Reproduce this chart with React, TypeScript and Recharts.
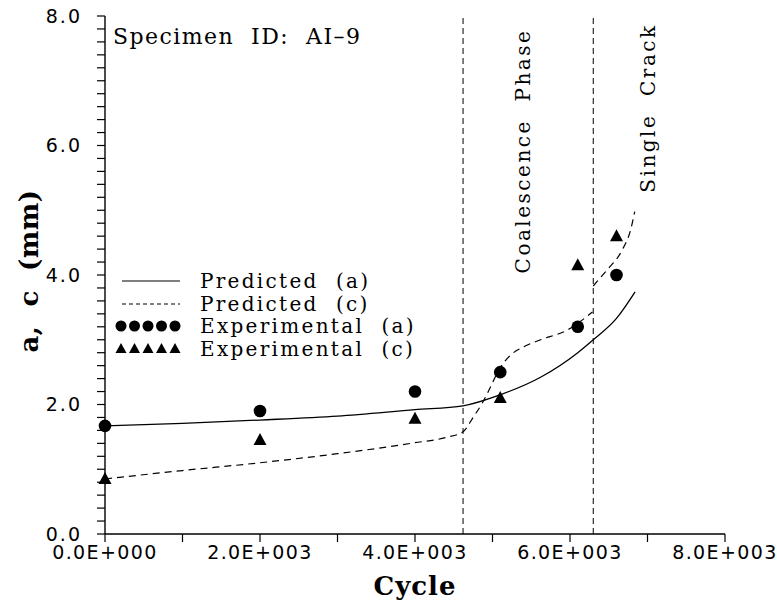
import {
  ComposedChart,
  Line,
  Scatter,
  XAxis,
  YAxis,
  ReferenceLine,
  Legend,
} from 'recharts';

// experimental measurements
const testCycles = [0, 2000, 4000, 5100, 6100, 6600];
const expA = [1.67, 1.9, 2.2, 2.5, 3.2, 4.0];
const expC = [0.85, 1.45, 1.78, 2.1, 4.15, 4.6];

// predicted depth a
const predACycles = [0, 1000, 2000, 3000, 4000, 4620, 5100, 5620, 6100, 6300, 6600, 6840];
const predA = [1.67, 1.71, 1.76, 1.82, 1.92, 1.98, 2.15, 2.42, 2.8, 3.0, 3.33, 3.74];

// predicted half length c, before and after the single crack forms
const predC1Cycles = [0, 1000, 2000, 3000, 4000, 4400, 4620, 4755, 4867, 4974, 5080, 5232, 5400, 5620, 5965, 6290];
const predC1 = [0.85, 0.98, 1.1, 1.24, 1.41, 1.49, 1.58, 1.81, 2.02, 2.27, 2.53, 2.76, 2.89, 3.0, 3.15, 3.43];
const predC2Cycles = [6300, 6350, 6480, 6675, 6783, 6835];
const predC2 = [3.83, 3.9, 4.08, 4.39, 4.7, 4.98];

const phaseCycles = [4620, 6300];
const phaseLabels = ['Coalescence  Phase', 'Single  Crack'];

const xMajor = [0, 2000, 4000, 6000, 8000];
const yMajor = [0, 2, 4, 6, 8];

const xTicks = [0, 1000, 2000, 3000, 4000, 5000, 6000, 7000, 8000];
const yTicks = Array.from({ length: 41 }, (_, i) => Math.round(i * 2) / 10);

const legendItems = ['Predicted  (a)', 'Predicted  (c)', 'Experimental  (a)', 'Experimental  (c)'];

const toPoints = (xs: number[], ys: number[]) => xs.map((x, i) => ({ x, y: ys[i] }));

const expAData = toPoints(testCycles, expA);
const expCData = toPoints(testCycles, expC);
const predAData = toPoints(predACycles, predA);
const predC1Data = toPoints(predC1Cycles, predC1);
const predC2Data = toPoints(predC2Cycles, predC2);

const serif = 'DejaVu Serif';
const sans = 'DejaVu Sans';

function fmtCycle(v: number) {
  if (!xMajor.includes(v)) return '';
  if (v === 0) return '0.0E+000';
  const e = Math.floor(Math.log10(v));
  const m = v / Math.pow(10, e);
  return `${m.toFixed(1)}E+${String(e).padStart(3, '0')}`;
}

function fmtSize(v: number) {
  return yMajor.some((m) => Math.abs(m - v) < 1e-6) ? v.toFixed(1) : '';
}

const Dot = (p: any) => <circle cx={p.cx} cy={p.cy} r={6.3} fill="#000" />;
const Tri = (p: any) => (
  <polygon
    points={`${p.cx},${p.cy - 7} ${p.cx - 6.5},${p.cy + 5} ${p.cx + 6.5},${p.cy + 5}`}
    fill="#000"
  />
);

function LegendBox() {
  return (
    <div style={{ fontFamily: serif, fontSize: 20, letterSpacing: 2.3, color: '#000' }}>
      {legendItems.map((name, i) => (
        <div key={name} style={{ display: 'flex', alignItems: 'center', height: 22.7 }}>
          <svg width={87} height={22}>
            {i === 0 && <line x1={9} x2={67} y1={11} y2={11} stroke="#000" strokeWidth={1.2} />}
            {i === 1 && (
              <line x1={9} x2={67} y1={11} y2={11} stroke="#000" strokeWidth={1} strokeDasharray="4 3" />
            )}
            {i === 2 &&
              [0, 1, 2, 3, 4].map((k) => <circle key={k} cx={8 + k * 13.5} cy={11} r={5.5} fill="#000" />)}
            {i === 3 &&
              [0, 1, 2, 3, 4].map((k) => (
                <polygon
                  key={k}
                  points={`${8 + k * 13.5},${5} ${2.5 + k * 13.5},${15} ${13.5 + k * 13.5},${15}`}
                  fill="#000"
                />
              ))}
          </svg>
          <span style={{ whiteSpace: 'pre' }}>{name}</span>
        </div>
      ))}
    </div>
  );
}

export default function App() {
  const labelOffsets = [67, 62];
  const labelCenters = [151, 108];

  return (
    <div style={{ position: 'absolute', left: 0, top: 0, background: '#fff' }}>
      <ComposedChart width={777} height={605} margin={{ top: 16, right: 52, bottom: 0, left: 0 }}>
        <XAxis
          dataKey="x"
          type="number"
          domain={[0, 8000]}
          ticks={xTicks}
          interval={0}
          tickFormatter={fmtCycle}
          height={71}
          axisLine={{ stroke: '#000', strokeWidth: 1.4 }}
          tickLine={{ stroke: '#000', strokeWidth: 1.2 }}
          tickSize={8}
          tickMargin={4}
          tick={{ fill: '#000', fontSize: 19, fontFamily: sans, letterSpacing: 1.4 }}
          label={(p: any) => (
            <text
              x={p.viewBox.x + p.viewBox.width / 2}
              y={p.viewBox.y + 61}
              textAnchor="middle"
              fontFamily={serif}
              fontSize={26}
              fontWeight="bold"
              letterSpacing={1}
              fill="#000"
            >
              Cycle
            </text>
          )}
        />
        <XAxis
          xAxisId="top"
          orientation="top"
          type="number"
          domain={[0, 8000]}
          height={0}
          tick={false}
          tickLine={false}
          axisLine={{ stroke: '#000', strokeWidth: 1.4 }}
        />
        <YAxis
          dataKey="y"
          type="number"
          domain={[0, 8]}
          ticks={yTicks}
          interval={0}
          tickFormatter={fmtSize}
          width={105}
          axisLine={{ stroke: '#000', strokeWidth: 1.4 }}
          tickLine={{ stroke: '#000', strokeWidth: 1.2 }}
          tickSize={8}
          tickMargin={15}
          tick={{ fill: '#000', fontSize: 19, fontFamily: sans, letterSpacing: 2 }}
          label={(p: any) => {
            const cx = 38;
            const cy = p.viewBox.y + p.viewBox.height / 2 - 4;
            return (
              <text
                x={cx}
                y={cy}
                transform={`rotate(-90, ${cx}, ${cy})`}
                textAnchor="middle"
                fontFamily={serif}
                fontSize={26}
                fontWeight="bold"
                letterSpacing={0.5}
                fill="#000"
                style={{ whiteSpace: 'pre' }}
              >
                a,  c  (mm)
              </text>
            );
          }}
        />
        <YAxis
          yAxisId="right"
          orientation="right"
          type="number"
          domain={[0, 8]}
          width={0}
          tick={false}
          tickLine={false}
          axisLine={{ stroke: '#000', strokeWidth: 1.4 }}
        />
        {phaseCycles.map((c, i) => (
          <ReferenceLine
            key={c}
            x={c}
            stroke="#000"
            strokeWidth={1}
            strokeDasharray="6 4"
            label={(p: any) => {
              const lx = p.viewBox.x + labelOffsets[i];
              const ly = labelCenters[i];
              return (
                <text
                  x={lx}
                  y={ly}
                  transform={`rotate(-90, ${lx}, ${ly})`}
                  textAnchor="middle"
                  fontFamily={serif}
                  fontSize={20}
                  letterSpacing={2.5}
                  fill="#000"
                  style={{ whiteSpace: 'pre' }}
                >
                  {phaseLabels[i]}
                </text>
              );
            }}
          />
        ))}
        <Line
          data={predAData}
          dataKey="y"
          type="monotone"
          stroke="#000"
          strokeWidth={1.3}
          dot={false}
          isAnimationActive={false}
        />
        <Line
          data={predC1Data}
          dataKey="y"
          type="monotone"
          stroke="#000"
          strokeWidth={1.2}
          strokeDasharray="7 5"
          dot={false}
          isAnimationActive={false}
        />
        <Line
          data={predC2Data}
          dataKey="y"
          type="monotone"
          stroke="#000"
          strokeWidth={1.2}
          strokeDasharray="7 5"
          dot={false}
          isAnimationActive={false}
        />
        <Scatter data={expAData} dataKey="y" shape={Dot} isAnimationActive={false} />
        <Scatter data={expCData} dataKey="y" shape={Tri} isAnimationActive={false} />
        <Legend
          layout="vertical"
          align="center"
          verticalAlign="middle"
          content={() => <LegendBox />}
          wrapperStyle={{ left: 113, top: 269.5, width: 'auto' }}
        />
      </ComposedChart>
      <div
        style={{
          position: 'absolute',
          left: 113,
          top: 26,
          fontFamily: serif,
          fontSize: 22,
          lineHeight: '22px',
          letterSpacing: 1.45,
          whiteSpace: 'pre',
          color: '#000',
        }}
      >
        Specimen  ID:  AI–9
      </div>
    </div>
  );
}
